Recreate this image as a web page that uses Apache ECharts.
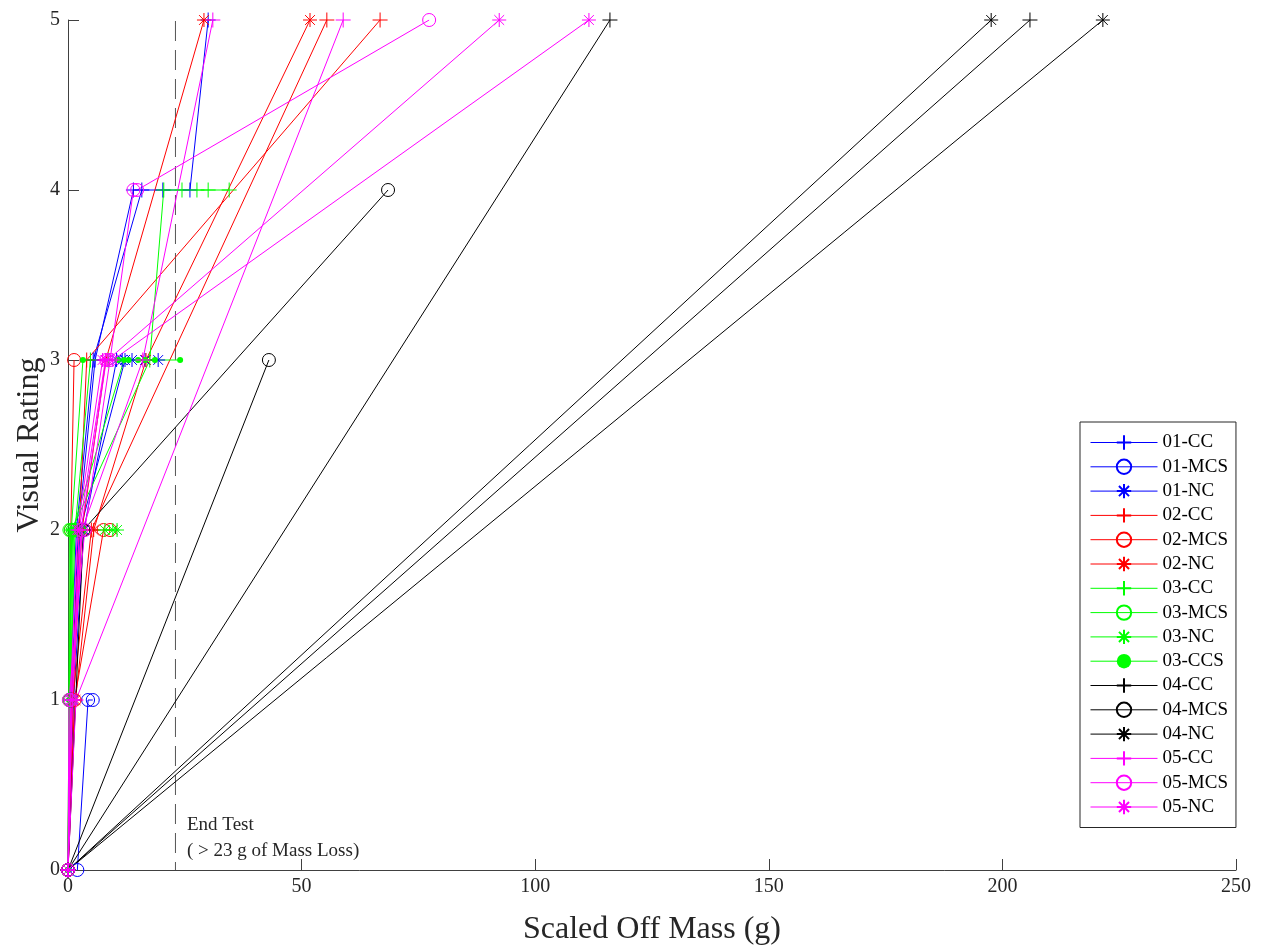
<!DOCTYPE html>
<html>
<head>
<meta charset="utf-8">
<script src="https://cdn.jsdelivr.net/npm/echarts@6/dist/echarts.min.js"></script>
<style>
html,body{margin:0;padding:0;background:#fff;}
#chart{width:1266px;height:946px;}
</style>
</head>
<body>
<div id="chart"></div>
<script>
// ---- data: [scaled off mass (g), visual rating] per specimen ----
const b_CC_1  = [[0,0],[0.4,1],[1.8,2],[5.4,3],[15.8,4],[20.3,4],[26.1,4],[30.0,5]];
const b_CC_2  = [[0,0],[0.7,1],[2.2,2],[5.8,3],[14.0,4]];
const b_MCS_1 = [[2.0,0],[4.3,1],[5.3,1]];
const b_NC_1  = [[0,0],[0.8,1],[2.6,2],[12.2,3],[13.7,3],[16.5,3],[19.3,3]];
const b_NC_2  = [[0,0],[1.2,1],[3.4,2],[10.4,3],[11.6,3]];

const r_CC_1  = [[0,0],[1.0,1],[5.0,2],[55.4,5]];
const r_CC_2  = [[0,0],[0.8,1],[2.4,2],[4.0,3],[66.8,5]];
const r_MCS_1 = [[0,0],[0.3,1],[0.6,2],[1.3,3]];
const r_MCS_2 = [[0,0],[1.4,1],[7.6,2],[9.0,2]];
const r_NC_1  = [[0,0],[1.0,1],[3.0,2],[8.1,3],[29.1,5]];
const r_NC_2  = [[0,0],[1.6,1],[5.5,2],[16.7,3],[51.8,5]];

const g_CC_1  = [[0,0],[0.3,1],[0.8,2],[17.5,3],[20.5,4],[24.4,4],[27.6,4],[30.0,4],[34.5,4]];
const g_CC_2  = [[0,0],[0.5,1],[1.5,2],[4.8,3],[8.6,3]];
const g_MCS_1 = [[0,0],[0.2,1],[0.3,2],[1.0,2],[1.7,2],[2.5,2]];
const g_MCS_2 = [[0,0],[0.4,1],[0.6,2],[1.3,2],[2.2,2]];
const g_NC_1  = [[0,0],[0.5,1],[1.2,2],[7.9,2],[9.6,2],[10.5,2]];
const g_CCS_1 = [[0,0],[0.2,1],[0.7,2],[3.2,3],[10.7,3],[13.0,3],[15.0,3],[18.6,3],[24.0,3]];
const g_CCS_2 = [[0,0],[0.3,1],[1.0,2],[12.0,3],[16.5,3]];

const k_CC_1  = [[0,0],[116.0,5]];
const k_CC_2  = [[0,0],[205.9,5]];
const k_MCS_1 = [[0,0],[43.0,3]];
const k_MCS_2 = [[0,0],[3.3,2],[68.5,4]];
const k_NC_1  = [[0,0],[197.6,5]];
const k_NC_2  = [[0,0],[221.5,5]];

const m_CC_1  = [[0,0],[1.7,1],[58.9,5]];
const m_CC_2  = [[0,0],[0.9,1],[3.0,2],[16.0,3],[31.0,5]];
const m_MCS_1 = [[0,0],[0.2,1],[3.6,2],[9.0,3],[14.0,4],[14.8,4],[77.3,5]];
const m_MCS_2 = [[0,0],[0.6,1],[2.8,2],[8.2,3]];
const m_NC_1  = [[0,0],[0.5,1],[2.0,2],[7.4,3],[8.5,3],[92.3,5]];
const m_NC_2  = [[0,0],[0.9,1],[2.4,2],[8.0,3],[9.6,3],[111.5,5]];

const endTestMass = 23;
const endLine = [[endTestMass,0],[endTestMass,5]];

const legendNames = ['01-CC','01-MCS','01-NC','02-CC','02-MCS','02-NC','03-CC','03-MCS','03-NC','03-CCS','04-CC','04-MCS','04-NC','05-CC','05-MCS','05-NC'];
const xTicks = [0,50,100,150,200,250];
const yTicks = [0,1,2,3,4,5];

// name, colour, marker, specimens
const groups = [
  ['01-CC','#0000ff','plus',[b_CC_1,b_CC_2]],
  ['01-MCS','#0000ff','circle',[b_MCS_1]],
  ['01-NC','#0000ff','star',[b_NC_1,b_NC_2]],
  ['02-CC','#ff0000','plus',[r_CC_1,r_CC_2]],
  ['02-MCS','#ff0000','circle',[r_MCS_1,r_MCS_2]],
  ['02-NC','#ff0000','star',[r_NC_1,r_NC_2]],
  ['03-CC','#00ff00','plus',[g_CC_1,g_CC_2]],
  ['03-MCS','#00ff00','circle',[g_MCS_1,g_MCS_2]],
  ['03-NC','#00ff00','star',[g_NC_1]],
  ['03-CCS','#00ff00','dot',[g_CCS_1,g_CCS_2]],
  ['04-CC','#000000','plus',[k_CC_1,k_CC_2]],
  ['04-MCS','#000000','circle',[k_MCS_1,k_MCS_2]],
  ['04-NC','#000000','star',[k_NC_1,k_NC_2]],
  ['05-CC','#ff00ff','plus',[m_CC_1,m_CC_2]],
  ['05-MCS','#ff00ff','circle',[m_MCS_1,m_MCS_2]],
  ['05-NC','#ff00ff','star',[m_NC_1,m_NC_2]]
];

const SYM = {
  plus:  {symbol:'path://M5,0L5,10M0,5L10,5', size:15},
  star:  {symbol:'path://M5,0L5,10M0,5L10,5M1.5,1.5L8.5,8.5M1.5,8.5L8.5,1.5', size:14},
  circle:{symbol:'circle', size:13},
  dot:   {symbol:'circle', size:6}
};

const series = [];
series.push({
  type:'line', name:'endtest', data:endLine, symbol:'none', silent:true,
  lineStyle:{color:'#555555', width:1, type:[20,9], dashOffset:12}, z:1
});
groups.forEach(([name,color,mk,specs])=>{
  specs.forEach(d=>{
    const s = SYM[mk];
    series.push({
      type:'line', name:name, data:d,
      symbol:s.symbol, symbolSize:s.size, showSymbol:true,
      lineStyle:{color:color, width:1},
      itemStyle: mk==='dot' ? {color:color, borderColor:color, borderWidth:0}
                            : {color:'rgba(0,0,0,0)', borderColor:color, borderWidth:1},
      emphasis:{disabled:true}, silent:true, animation:false, z:2
    });
  });
});

const serif = '"Liberation Serif","DejaVu Serif",serif';
const chart = echarts.init(document.getElementById('chart'), null, {renderer:'canvas'});
chart.setOption({
  backgroundColor:'#ffffff',
  animation:false,
  grid:{left:68, right:30, top:20, bottom:76, containLabel:false, outerBoundsMode:'none'},
  xAxis:{
    type:'value', min:xTicks[0], max:xTicks[xTicks.length-1], interval:50,
    name:'Scaled Off Mass (g)', nameLocation:'middle', nameGap:44, nameMoveOverlap:false,
    nameTextStyle:{fontFamily:serif, fontSize:32, color:'#262626'},
    axisLine:{show:true, onZero:false, lineStyle:{color:'#404040', width:1}},
    axisTick:{show:true, inside:true, length:11, lineStyle:{color:'#404040'}},
    axisLabel:{fontFamily:serif, fontSize:20, color:'#262626', margin:7},
    splitLine:{show:false}
  },
  yAxis:{
    type:'value', min:yTicks[0], max:yTicks[yTicks.length-1], interval:1,
    name:'Visual Rating', nameLocation:'middle', nameGap:22, nameMoveOverlap:false,
    nameTextStyle:{fontFamily:serif, fontSize:32, color:'#262626'},
    axisLine:{show:true, onZero:false, lineStyle:{color:'#404040', width:1}},
    axisTick:{show:true, inside:true, length:11, lineStyle:{color:'#404040'}},
    axisLabel:{fontFamily:serif, fontSize:20, color:'#262626', margin:8},
    splitLine:{show:false}
  },
  legend:{
    data:legendNames, orient:'vertical', left:1080, top:422,
    itemWidth:67, itemHeight:18, itemGap:5.3,
    padding:[11,8,11,10],
    backgroundColor:'#ffffff', borderColor:'#262626', borderWidth:1,
    lineStyle:{width:1},
    textStyle:{fontFamily:serif, fontSize:19, color:'#000'},
    selectedMode:false
  },
  graphic:[
    {type:'text', left:187, top:816, style:{text:'End Test', font:'19px '+serif, fill:'#262626'}},
    {type:'text', left:187, top:842, style:{text:'( > 23 g of Mass Loss)', font:'19px '+serif, fill:'#262626'}}
  ],
  series:series
});
</script>
</body>
</html>
